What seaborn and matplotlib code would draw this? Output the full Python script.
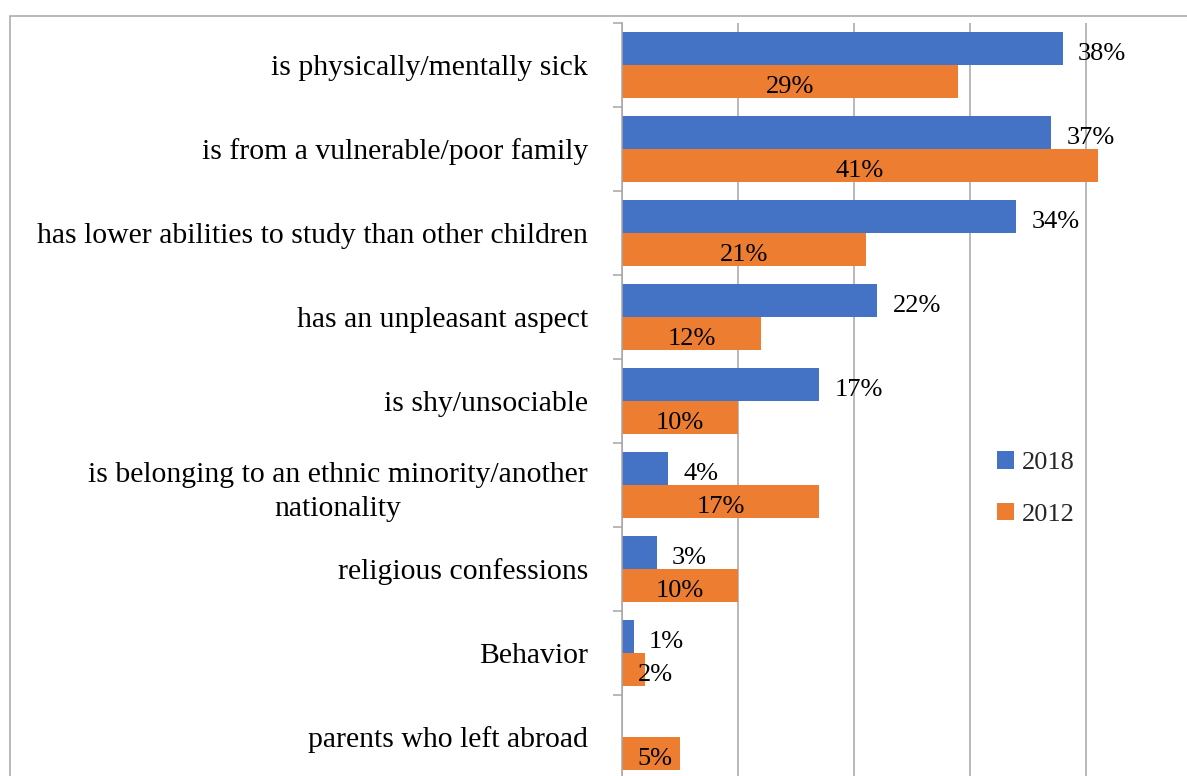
import numpy as np
import pandas as pd
import matplotlib
matplotlib.use("Agg")
import matplotlib.pyplot as plt
from matplotlib.patches import Patch, Rectangle
import seaborn as sns

# --- data -------------------------------------------------------------
categories = [
    "is physically/mentally sick",
    "is from a vulnerable/poor family",
    "has lower abilities to study than other children",
    "has an unpleasant aspect",
    "is shy/unsociable",
    "is belonging to an ethnic minority/another\nnationality",
    "religious confessions",
    "Behavior",
    "parents who left abroad",
]
years = ["2018", "2012"]
values_2018 = [38, 37, 34, 22, 17, 4, 3, 1, np.nan]
values_2012 = [29, 41, 21, 12, 10, 17, 10, 2, 5]
colors = {"2018": "#4472C4", "2012": "#ED7D31"}

df = pd.DataFrame({
    "category": categories * 2,
    "year": ["2018"] * len(categories) + ["2012"] * len(categories),
    "value": values_2018 + values_2012,
})

# --- style ------------------------------------------------------------
sns.set_theme(style="white")
plt.rcParams["font.family"] = ["Liberation Serif", "DejaVu Serif"]
FS_CAT = 21.4
FS_VAL = 19
GRID = "#A6A6A6"

W, H = 1187, 776
fig = plt.figure(figsize=(W / 100, H / 100), dpi=100)

# plot area: left axis at x=622 px, top at y=23 px, extends past the
# right and bottom edges of the canvas
left_px, top_px = 622, 23
px_per_unit = 11.6
xmax = 50
right_px = left_px + xmax * px_per_unit
bottom_px = 779
ax = fig.add_axes([
    left_px / W,
    1 - bottom_px / H,
    (right_px - left_px) / W,
    (bottom_px - top_px) / H,
])

sns.barplot(
    data=df, y="category", x="value", hue="year", hue_order=years,
    order=categories, palette=colors, orient="h", width=0.786,
    errorbar=None, saturation=1, legend=False, linewidth=0, ax=ax,
)

ax.set_xlim(0, xmax)
ax.set_ylim(len(categories) - 0.5, -0.5)
ax.set_xlabel("")
ax.set_ylabel("")

# vertical gridlines every 10%
ax.set_xticks(np.arange(0, xmax + 1, 10))
ax.set_xticklabels([])
ax.tick_params(axis="x", length=0)
ax.xaxis.grid(True, color=GRID, linewidth=1.1)
ax.set_axisbelow(True)

for side in ("top", "right", "bottom"):
    ax.spines[side].set_visible(False)
ax.spines["left"].set_color(GRID)
ax.spines["left"].set_linewidth(1.1)

# category labels at band centres, tick marks at band boundaries
ax.set_yticks(np.arange(len(categories)))
ax.set_yticklabels(categories, fontsize=FS_CAT, color="black",
                   multialignment="center")
for lbl in ax.get_yticklabels():
    lbl.set_linespacing(1.42)
ax.tick_params(axis="y", which="major", length=0, pad=24.5)
ax.set_yticks(np.arange(-0.5, len(categories), 1), minor=True)
ax.tick_params(axis="y", which="minor", length=6.5, width=1.1, color=GRID,
               left=True)

# value labels: 2018 outside the bar end, 2012 centred inside the bar
min_center = 2.85
drop = -8.3  # baseline sits a little below the bar's centre line
for year, container in zip(years, ax.containers):
    for bar in container:
        w = bar.get_width()
        if not np.isfinite(w) or w <= 0:
            continue
        yc = bar.get_y() + bar.get_height() / 2
        label = f"{w:.0f}%"
        if year == "2018":
            ax.annotate(label, xy=(w, yc), xytext=(11, drop),
                        textcoords="offset points", ha="left", va="baseline",
                        fontsize=FS_VAL, color="black")
        else:
            ax.annotate(label, xy=(max(w / 2, min_center), yc),
                        xytext=(0, drop), textcoords="offset points",
                        ha="center", va="baseline",
                        fontsize=FS_VAL, color="black")

# legend
handles = [Patch(facecolor=colors[y], edgecolor="none") for y in years]
fig.legend(
    handles, years, loc="upper left",
    bbox_to_anchor=(997 / W, 1 - 451 / H), frameon=False,
    fontsize=FS_VAL, handlelength=0.65, handleheight=0.65,
    handletextpad=0.3, labelspacing=1.09, borderpad=0, borderaxespad=0,
)

# outer chart frame
fig.patches.append(Rectangle(
    (10 / W, -0.2), 1.5, 1 - 16 / H + 0.2, transform=fig.transFigure,
    fill=False, edgecolor=GRID, linewidth=1.1, zorder=0,
))

fig.savefig("out.png", dpi=100)
